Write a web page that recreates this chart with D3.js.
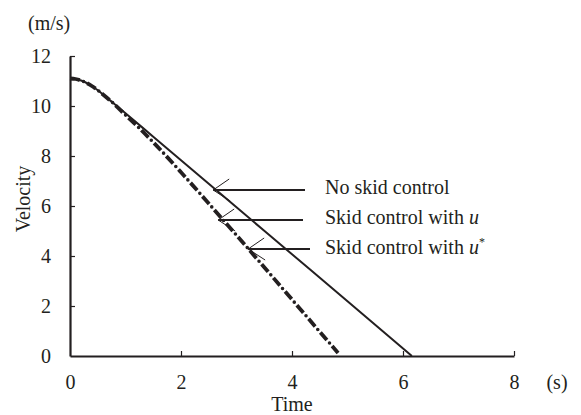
<!DOCTYPE html>
<html>
<head>
<meta charset="utf-8">
<script src="https://cdn.jsdelivr.net/npm/d3@7"></script>
<style>
  body { margin: 0; background: #fff; }
  svg { display: block; font-family: "Liberation Serif", "Times New Roman", serif; }
</style>
</head>
<body>
<div id="chart"></div>
<script>
// velocity curves (time in s, velocity in m/s)
const timeNoSkid = [0, 0.1, 0.2, 0.3, 0.4, 0.5, 0.6, 0.8, 1.0, 1.5, 2, 3, 4, 5, 6.16];
const velNoSkid  = [11.1, 11.08, 11.02, 10.92, 10.79, 10.63, 10.45, 10.08, 9.71, 8.77, 7.83, 5.95, 4.07, 2.19, 0];

const timeSkidU = [0, 0.1, 0.2, 0.3, 0.4, 0.5, 0.6, 0.8, 1.0, 1.2, 1.5, 2, 2.5, 3, 3.5, 4, 4.83];
const velSkidU  = [11.1, 11.08, 11.02, 10.92, 10.79, 10.63, 10.45, 10.07, 9.64, 9.22, 8.55, 7.35, 6.1, 4.83, 3.55, 2.26, 0.12];

const timeSkidUStar = [0, 0.1, 0.2, 0.3, 0.4, 0.5, 0.6, 0.8, 1.0, 1.2, 1.5, 2, 2.5, 3, 3.5, 4, 4.83];
const velSkidUStar  = [11.1, 11.08, 11.02, 10.92, 10.79, 10.63, 10.45, 10.07, 9.64, 9.22, 8.55, 7.35, 6.1, 4.83, 3.55, 2.26, 0.12];

const xTicks = [0, 2, 4, 6, 8];
const yTicks = [0, 2, 4, 6, 8, 10, 12];

// annotation arrows: where each arrow points (data coords)
const arrowTipT = [2.58, 2.67, 3.21];
const arrowTipV = [6.64, 5.44, 4.28];
const arrowEndX = [305, 303, 310];
const labelDy   = [4, 4, 5];

const ink = "#231f20";
const serif = "'Liberation Serif', 'Times New Roman', serif";
let width = 581, height = 415;

let x = d3.scaleLinear().domain([0, 8]).range([70, 514]);
let y = d3.scaleLinear().domain([0, 12]).range([356, 56]);

let svg = d3.select("#chart").append("svg")
  .attr("width", width)
  .attr("height", height);

// axes, ticks pointing inward
let xAxis = svg.append("g")
  .attr("transform", "translate(0," + y(0) + ")")
  .call(d3.axisBottom(x).tickValues(xTicks).tickSizeInner(-5).tickSizeOuter(0).tickPadding(19));

let yAxis = svg.append("g")
  .attr("transform", "translate(" + x(0) + ",0)")
  .call(d3.axisLeft(y).tickValues(yTicks).tickSizeInner(-5).tickSizeOuter(0).tickPadding(19));

[xAxis, yAxis].forEach(function(a) {
  a.attr("font-family", serif).attr("font-size", 20);
  a.select(".domain").attr("stroke", ink).attr("stroke-width", 2.2);
  a.selectAll(".tick line").attr("stroke", ink).attr("stroke-width", 1.2);
  a.selectAll(".tick text").attr("fill", ink);
  // corner tick not drawn
  a.selectAll(".tick line").filter(d => d === 0).remove();
});

// axis titles
svg.append("text").attr("x", 28).attr("y", 30)
  .attr("font-size", 20).attr("fill", ink).text("(m/s)");
svg.append("text").attr("x", 557).attr("y", 389)
  .attr("text-anchor", "middle").attr("font-size", 20).attr("fill", ink).text("(s)");
svg.append("text").attr("x", x(4)).attr("y", 411)
  .attr("text-anchor", "middle").attr("font-size", 20).attr("fill", ink).text("Time");
svg.append("text")
  .attr("transform", "translate(30," + 199 + ") rotate(-90)")
  .attr("text-anchor", "middle").attr("font-size", 20).attr("fill", ink).text("Velocity");

let line = d3.line()
  .x(d => x(d[0]))
  .y(d => y(d[1]))
  .curve(d3.curveMonotoneX);

const zip = (ts, vs) => ts.map((t, i) => [t, vs[i]]);

svg.append("path")
  .datum(zip(timeNoSkid, velNoSkid))
  .attr("d", line)
  .attr("fill", "none")
  .attr("stroke", ink)
  .attr("stroke-width", 2);

svg.append("path")
  .datum(zip(timeSkidU, velSkidU))
  .attr("d", line)
  .attr("fill", "none")
  .attr("stroke", ink)
  .attr("stroke-width", 3.8)
  .attr("stroke-dasharray", "10,8");

svg.append("path")
  .datum(zip(timeSkidUStar, velSkidUStar))
  .attr("d", line)
  .attr("fill", "none")
  .attr("stroke", ink)
  .attr("stroke-width", 3.6)
  .attr("stroke-linecap", "round")
  .attr("stroke-dasharray", "0,18")
  .attr("stroke-dashoffset", -14);

// legend arrows and labels
let ann = svg.append("g");
arrowTipT.forEach(function(t, i) {
  let tx = x(t), ty = y(arrowTipV[i]);
  ann.append("line")
    .attr("x1", tx).attr("y1", ty).attr("x2", arrowEndX[i]).attr("y2", ty)
    .attr("stroke", ink).attr("stroke-width", 2);
  ann.append("path")
    .attr("d", "M" + (tx + 16) + "," + (ty - 11) + "L" + tx + "," + ty + "L" + (tx + 17) + "," + (ty + 11))
    .attr("fill", "none").attr("stroke", ink).attr("stroke-width", 1);

  let label = ann.append("text")
    .attr("x", 325).attr("y", ty + labelDy[i])
    .attr("font-size", 20).attr("fill", ink);
  if (i === 0) {
    label.text("No skid control");
  } else {
    label.append("tspan").text("Skid control with ");
    label.append("tspan").attr("font-style", "italic").text("u");
    if (i === 2) {
      label.append("tspan").attr("font-size", 12).attr("dy", -8).text("*");
    }
  }
});
</script>
</body>
</html>
